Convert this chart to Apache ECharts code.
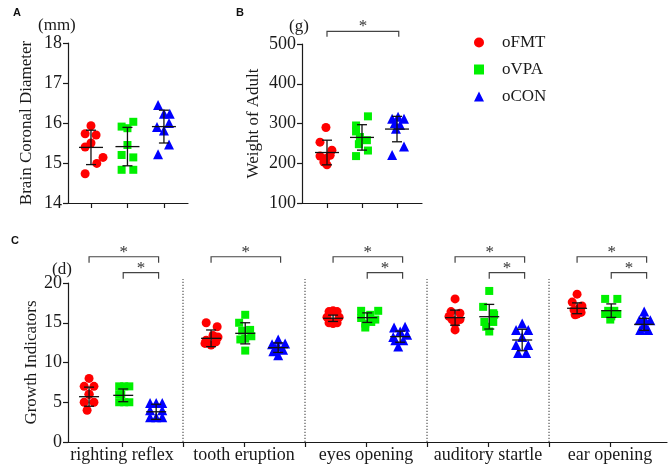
<!DOCTYPE html>
<html>
<head>
<meta charset="utf-8">
<script src="https://cdn.jsdelivr.net/npm/echarts@6/dist/echarts.min.js"></script>
<style>
  html, body { margin: 0; padding: 0; background: #fff; }
  #chart { width: 669px; height: 464px; }
</style>
</head>
<body>
<div id="chart"></div>
<script>
// groups (red, green, blue)
const groupNames = ['oFMT', 'oVPA', 'oCON']

// A: brain coronal diameter (mm), one array per group, plus jitter (x units)
const brainValues = [
  [15.93, 15.73, 15.70, 15.50, 15.40, 15.14, 14.99, 14.73],
  [16.03, 15.91, 15.87, 15.45, 15.20, 15.14, 14.83, 14.83],
  [16.45, 16.23, 16.23, 15.90, 15.81, 16.00, 15.46, 15.22]
]
const brainJitter = [
  [0, -0.16, 0.14, 0, -0.16, 0.33, 0.16, -0.16],
  [0.16, -0.16, 0, 0, -0.16, 0.16, -0.16, 0.16],
  [-0.16, 0, 0.16, -0.19, 0, 0.14, 0.14, -0.16]
]
const brainMean = [15.39, 15.41, 15.91]
const brainSd = [0.43, 0.48, 0.41]

// B: weight of adult (g)
const weightValues = [
  [290, 253, 233, 218, 212, 220, 203, 196],
  [318, 295, 280, 266, 258, 248, 232, 218],
  [312, 317, 312, 301, 296, 287, 242, 221]
]
const weightJitter = [
  [-0.03, -0.2, 0.14, -0.2, -0.03, 0.09, -0.09, 0],
  [0.17, -0.17, -0.17, -0.06, 0.14, -0.09, 0.17, -0.17],
  [-0.14, 0.03, 0.2, -0.06, 0.09, -0.03, 0.2, -0.14]
]
const weightMean = [227, 265, 286]
const weightSd = [31, 32, 32]

// C: growth indicators (d)
const growthCategories = ['righting reflex', 'tooth eruption', 'eyes opening', 'auditory startle', 'ear opening']
const rightingReflex = [
  [8.0, 7.0, 7.0, 6.0, 5.0, 5.0, 4.0, 6.0],
  [7, 7, 6, 5, 5, 7, 6, 5],
  [4.9, 4.9, 4.9, 4.0, 4.0, 3.1, 3.1, 3.1]
]
const toothEruption = [
  [15.0, 14.5, 13.4, 13.2, 12.8, 12.6, 12.2, 12.4],
  [16.0, 15.0, 14.1, 13.3, 12.9, 13.0, 11.5, 14.0],
  [12.9, 12.3, 12.4, 12.0, 11.4, 10.9, 11.6, 11.8]
]
const eyesOpening = [
  [16.4, 16.4, 15.7, 15.7, 15.0, 15.0, 14.9, 16.5],
  [16.5, 16.5, 15.6, 16.0, 15.4, 14.9, 14.4, 15.1],
  [14.4, 14.5, 13.9, 13.5, 12.8, 12.8, 12.0, 13.2]
]
const auditoryStartle = [
  [18.0, 16.4, 16.2, 15.4, 15.4, 14.9, 14.1, 15.8],
  [19.0, 17.0, 16.2, 15.1, 15.1, 13.9, 16.0, 14.5],
  [14.9, 14.1, 14.1, 13.2, 12.2, 12.2, 11.2, 11.2]
]
const earOpening = [
  [18.6, 17.6, 17.1, 16.6, 16.3, 16.1, 16.0, 16.8],
  [18.0, 18.0, 16.1, 16.1, 15.4, 16.5, 16.5, 15.8],
  [16.4, 15.3, 15.3, 14.1, 14.1, 14.8, 15.6, 14.4]
]
const growthJitter = [
  [[0, -0.04, 0.04, 0, -0.04, 0.04, -0.016, 0],
   [-0.033, 0.05, -0.033, -0.033, 0.05, 0.008, -0.016, 0.008],
   [-0.05, 0, 0.05, -0.05, 0.05, -0.05, 0, 0.05]],
  [[-0.04, 0.05, 0.016, 0.057, -0.04, 0.04, 0, -0.05],
   [0, -0.05, 0.04, 0.05, -0.04, 0, 0, -0.025],
   [0, -0.05, 0.057, 0, -0.04, 0, 0.04, -0.025]],
  [[-0.033, 0.033, -0.05, 0.05, -0.033, 0.033, 0, 0],
   [-0.05, 0.09, -0.05, 0.025, 0.066, -0.016, -0.016, 0.033],
   [-0.05, 0.04, 0, 0.057, -0.04, 0.025, -0.016, -0.057]],
  [[0, -0.033, 0.04, -0.025, 0.04, 0, 0, -0.05],
   [0, -0.05, 0.033, -0.04, 0.033, 0, 0.04, -0.025],
   [0, -0.05, 0.05, 0, -0.05, 0.05, -0.033, 0.033]],
  [[0, -0.04, 0.04, -0.025, 0.033, 0, -0.016, 0.016],
   [-0.05, 0.05, -0.05, 0.05, -0.008, -0.025, 0.025, 0],
   [0, -0.04, 0.05, -0.033, 0.033, 0, 0, 0.016]]
]
const growthMean = [
  [5.7, 5.87, 3.8],
  [13.04, 13.67, 11.87],
  [15.56, 15.64, 13.25],
  [15.64, 15.76, 12.83],
  [16.82, 16.52, 14.8]
]
const growthSd = [
  [1.2, 0.8, 0.95],
  [1.05, 1.33, 0.6],
  [0.4, 0.6, 0.7],
  [0.95, 1.55, 1.35],
  [0.68, 0.85, 0.75]
]

// significance brackets: [from group, to group] in B; [category, from, to, level] in C
const weightSig = [[0, 2]]
const growthSig = [
  [0, 0, 2, 0], [0, 1, 2, 1],
  [1, 0, 2, 0],
  [2, 0, 2, 0], [2, 1, 2, 1],
  [3, 0, 2, 0], [3, 1, 2, 1],
  [4, 0, 2, 0], [4, 1, 2, 1]
]

const colors = ['#ff0000', '#00f000', '#0000ff']
const symbols = ['circle', 'rect', 'triangle']
const symbolSizes = [9, 8, 10]
const serif = '"Liberation Serif", "Times New Roman", serif'
const ink = '#1a1a1a'
const growthOffset = [-0.27, 0.01, 0.28]

const growthAll = [rightingReflex, toothEruption, eyesOpening, auditoryStartle, earOpening]

const chart = echarts.init(document.getElementById('chart'), null, { renderer: 'canvas' })

function valueAxisY(gridIndex, min, max, interval, name, nameGap) {
  return {
    type: 'value', gridIndex, min, max, interval,
    name, nameLocation: 'middle', nameGap, nameMoveOverlap: false,
    nameTextStyle: { fontFamily: serif, fontSize: 17, color: ink },
    axisLine: { show: true, onZero: false, lineStyle: { color: ink, width: 1.2 } },
    axisTick: { show: true, length: 5, lineStyle: { color: ink, width: 1.2 } },
    axisLabel: { fontFamily: serif, fontSize: 18, color: ink, margin: 6 },
    splitLine: { show: false }
  }
}

function valueAxisX(gridIndex, min, max, ticks, labels) {
  return {
    type: 'value', gridIndex, min, max,
    axisLine: { show: true, onZero: false, lineStyle: { color: ink, width: 1.2 } },
    axisTick: { show: true, length: 5, customValues: ticks, lineStyle: { color: ink, width: 1.2 } },
    axisLabel: labels
      ? { show: true, customValues: labels, fontFamily: serif, fontSize: 18, color: ink, margin: 4,
          formatter: v => growthCategories[Math.round(v)] }
      : { show: false },
    splitLine: { show: false }
  }
}

function errorSeries(xAxisIndex, items, halfMean, halfCap) {
  return {
    type: 'custom', xAxisIndex, yAxisIndex: xAxisIndex, z: 5, silent: true,
    data: items,
    renderItem: (params, api) => {
      const x = api.value(0), m = api.value(1), s = api.value(2)
      const c = api.coord([x, m])
      const t = api.coord([x, m + s])
      const b = api.coord([x, m - s])
      const st = { stroke: '#111', lineWidth: 1.3 }
      return {
        type: 'group',
        children: [
          { type: 'line', shape: { x1: c[0], y1: t[1], x2: c[0], y2: b[1] }, style: st },
          { type: 'line', shape: { x1: c[0] - halfMean, y1: c[1], x2: c[0] + halfMean, y2: c[1] }, style: st },
          { type: 'line', shape: { x1: c[0] - halfCap, y1: t[1], x2: c[0] + halfCap, y2: t[1] }, style: st },
          { type: 'line', shape: { x1: c[0] - halfCap, y1: b[1], x2: c[0] + halfCap, y2: b[1] }, style: st }
        ]
      }
    }
  }
}

function bracketSeries(xAxisIndex, items) {
  // item: [x1, x2, yTop, yEnd]
  return {
    type: 'custom', xAxisIndex, yAxisIndex: xAxisIndex, z: 6, silent: true, clip: false,
    data: items,
    renderItem: (params, api) => {
      const p1 = api.coord([api.value(0), api.value(2)])
      const p2 = api.coord([api.value(1), api.value(2)])
      const e = api.coord([api.value(0), api.value(3)])
      return {
        type: 'group',
        children: [
          { type: 'polyline',
            shape: { points: [[p1[0], e[1]], [p1[0], p1[1]], [p2[0], p2[1]], [p2[0], e[1]]] },
            style: { stroke: '#444', lineWidth: 1.2, fill: null } },
          { type: 'text',
            style: { text: '*', x: (p1[0] + p2[0]) / 2, y: p1[1] + 4, align: 'center', verticalAlign: 'bottom',
                     font: '17px ' + serif, fill: '#333' } }
        ]
      }
    }
  }
}

const series = []

// A scatter
brainValues.forEach((vals, g) => {
  series.push({
    name: groupNames[g], type: 'scatter', xAxisIndex: 0, yAxisIndex: 0,
    symbol: symbols[g], symbolSize: symbolSizes[g], itemStyle: { color: colors[g], opacity: 1 },
    data: vals.map((v, i) => [g + 1 + brainJitter[g][i], v])
  })
})
series.push(errorSeries(0, brainMean.map((m, g) => [g + 1, m, brainSd[g]]), 12, 5))

// B scatter
weightValues.forEach((vals, g) => {
  series.push({
    name: groupNames[g], type: 'scatter', xAxisIndex: 1, yAxisIndex: 1,
    symbol: symbols[g], symbolSize: symbolSizes[g], itemStyle: { color: colors[g], opacity: 1 },
    data: vals.map((v, i) => [g + 1 + weightJitter[g][i], v])
  })
})
series.push(errorSeries(1, weightMean.map((m, g) => [g + 1, m, weightSd[g]]), 12, 5))
series.push(bracketSeries(1, weightSig.map(s => [s[0] + 1, s[1] + 1.05, 532, 518])))

// C dividers
series.push({
  type: 'custom', xAxisIndex: 2, yAxisIndex: 2, z: 1, silent: true, clip: false,
  data: [0.5, 1.5, 2.5, 3.5].map(x => [x]),
  renderItem: (params, api) => {
    const a = api.coord([api.value(0), 0])
    const b = api.coord([api.value(0), 20.5])
    return { type: 'line', shape: { x1: a[0], y1: a[1], x2: b[0], y2: b[1] },
             style: { stroke: '#555', lineWidth: 1.2, lineDash: [1.2, 1.8] } }
  }
})

// C scatter
groupNames.forEach((name, g) => {
  const data = []
  growthAll.forEach((cat, c) => {
    cat[g].forEach((v, i) => data.push([c + growthOffset[g] + growthJitter[c][g][i], v]))
  })
  series.push({
    name, type: 'scatter', xAxisIndex: 2, yAxisIndex: 2,
    symbol: symbols[g], symbolSize: symbolSizes[g], itemStyle: { color: colors[g], opacity: 1 },
    data
  })
})
const growthErr = []
growthMean.forEach((row, c) => row.forEach((m, g) => growthErr.push([c + growthOffset[g], m, growthSd[c][g]])))
series.push(errorSeries(2, growthErr, 10, 5))
series.push(bracketSeries(2, growthSig.map(s => {
  const top = s[3] === 0 ? 23.3 : 21.3
  return [s[0] + growthOffset[s[1]], s[0] + growthOffset[s[2]] + 0.02, top, top - 0.75]
})))

const option = {
  backgroundColor: '#fff',
  animation: false,
  title: [
    { text: 'A', left: 8, top: 2, textStyle: { fontFamily: 'Arial, sans-serif', fontSize: 11, fontWeight: 'bold', color: '#111' } },
    { text: 'B', left: 231, top: 2, textStyle: { fontFamily: 'Arial, sans-serif', fontSize: 11, fontWeight: 'bold', color: '#111' } },
    { text: 'C', left: 6, top: 230, textStyle: { fontFamily: 'Arial, sans-serif', fontSize: 11, fontWeight: 'bold', color: '#111' } },
    { text: '(mm)', left: 33, top: 12, textStyle: { fontFamily: serif, fontSize: 17, fontWeight: 'normal', color: ink } },
    { text: '(g)', left: 284, top: 13, textStyle: { fontFamily: serif, fontSize: 17, fontWeight: 'normal', color: ink } },
    { text: '(d)', left: 47, top: 256, textStyle: { fontFamily: serif, fontSize: 17, fontWeight: 'normal', color: ink } }
  ],
  legend: {
    orient: 'vertical', left: 469, top: 29, itemGap: 10, itemWidth: 10, itemHeight: 10,
    textStyle: { fontFamily: serif, fontSize: 17, color: ink, padding: [0, 0, 0, 13] },
    data: groupNames.map((n, g) => ({ name: n, icon: symbols[g] })),
    selectedMode: false
  },
  grid: [
    { left: 68, top: 43, width: 120, height: 160 },
    { left: 302, top: 44, width: 120, height: 159 },
    { left: 68, top: 283, width: 599, height: 159 }
  ],
  xAxis: [
    valueAxisX(0, 0.37, 3.66, [1, 2, 3], null),
    valueAxisX(1, 0.286, 3.714, [1, 2, 3], null),
    valueAxisX(2, -0.4426, 4.467, [0, 0.5, 1, 1.5, 2, 2.5, 3, 3.5, 4], [0, 1, 2, 3, 4])
  ],
  yAxis: [
    valueAxisY(0, 14, 18, 1, 'Brain Coronal Diameter', 33),
    valueAxisY(1, 100, 500, 100, 'Weight of Adult', 40),
    valueAxisY(2, 0, 20, 5, 'Growth Indicators', 28)
  ],
  series
}

chart.setOption(option)
window.addEventListener('resize', () => chart.resize())
</script>
</body>
</html>
